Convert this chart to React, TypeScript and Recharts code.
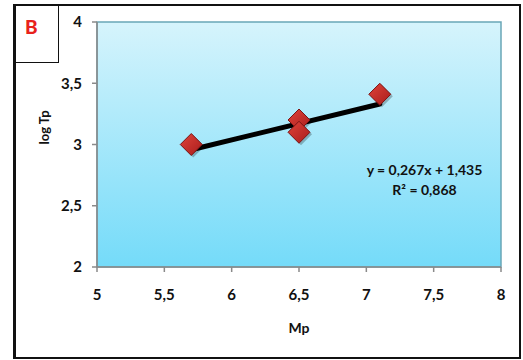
import React from "react";
import {
  ScatterChart,
  Scatter,
  XAxis,
  YAxis,
  ReferenceArea,
  ReferenceLine,
} from "recharts";

// measured points (Mp, log Tp)
const mpValues = [5.7, 6.5, 6.5, 7.1];
const logTpValues = [3.0, 3.2, 3.1, 3.41];

// linear trendline y = 0,267x + 1,435 between the first and last Mp
const trendStart = [5.7, 2.957];
const trendEnd = [7.1, 3.331];

const xTicks = [5, 5.5, 6, 6.5, 7, 7.5, 8];
const yTicks = [2, 2.5, 3, 3.5, 4];

const points = mpValues.map((mp, i) => ({ x: mp, y: logTpValues[i] }));

const FONT = "Lato, 'Open Sans', sans-serif";
const fmt = (v: number) => String(v).replace(".", ",");

// red diamond marker with a soft shadow
const Diamond = (props: any) => {
  const { cx, cy } = props;
  const r = 11;
  const d = `M${cx},${cy - r} L${cx + r},${cy} L${cx},${cy + r} L${cx - r},${cy} Z`;
  return (
    <g>
      <path d={d} transform="translate(2,2)" fill="rgba(0,0,0,0.25)" />
      <path d={d} fill="url(#dia)" stroke="#7a1414" strokeWidth={1} />
    </g>
  );
};

export default function App() {
  return (
    <div style={{ position: "relative", width: 523, height: 360, background: "#fff" }}>
      <style>{"body{margin:0}"}</style>
      {/* outer frame */}
      <div
        style={{
          position: "absolute",
          left: 13,
          top: 4,
          width: 503,
          height: 351,
          borderTop: "2px solid #111",
          borderRight: "2px solid #111",
          borderBottom: "2px solid #111",
          borderLeft: "3px solid #111",
        }}
      />
      {/* panel tag */}
      <div
        style={{
          position: "absolute",
          left: 13,
          top: 4,
          width: 46,
          height: 59,
          border: "1.5px solid #111",
          borderLeftWidth: 3,
          boxSizing: "border-box",
          fontFamily: FONT,
          fontWeight: 900,
          color: "#e8211c",
          fontSize: 19,
          lineHeight: "44px",
          paddingLeft: 9,
          textAlign: "left",
        }}
      >
        B
      </div>
      <div style={{ position: "absolute", left: 0, top: 0 }}>
        <ScatterChart
          width={523}
          height={360}
          margin={{ top: 22, right: 22, bottom: 63, left: 37 }}
        >
          <defs>
            <linearGradient id="bg" x1="0" y1="0" x2="0" y2="1">
              <stop offset="0%" stopColor="#d6f4fc" />
              <stop offset="100%" stopColor="#74dbf9" />
            </linearGradient>
            <linearGradient id="dia" x1="0" y1="0" x2="1" y2="1">
              <stop offset="0%" stopColor="#e0443a" />
              <stop offset="100%" stopColor="#a81c1c" />
            </linearGradient>
          </defs>
          <XAxis
            type="number"
            dataKey="x"
            domain={[5, 8]}
            ticks={xTicks}
            tickFormatter={fmt}
            height={30}
            tickSize={5}
            tickMargin={17}
            stroke="#8a8a8a"
            strokeWidth={1.5}
            tick={{ fill: "#111", fontSize: 15, fontWeight: 700, fontFamily: FONT }}
            label={{
              value: "Mp",
              position: "insideBottom",
              offset: -36,
              fill: "#111",
              fontSize: 14,
              fontWeight: 700,
              fontFamily: FONT,
            }}
          />
          <YAxis
            type="number"
            dataKey="y"
            domain={[2, 4]}
            ticks={yTicks}
            tickFormatter={fmt}
            width={60}
            tickSize={5}
            tickMargin={10}
            stroke="#8a8a8a"
            strokeWidth={1.5}
            tick={{ fill: "#111", fontSize: 15, fontWeight: 700, fontFamily: FONT }}
            label={{
              value: "log Tp",
              angle: -90,
              position: "insideLeft",
              offset: 0,
              dx: 7,
              fill: "#111",
              fontSize: 13,
              fontWeight: 700,
              fontFamily: FONT,
            }}
          />
          <ReferenceArea
            x1={5}
            x2={8}
            y1={2}
            y2={4}
            fill="url(#bg)"
            fillOpacity={1}
            stroke="#6aa6b6"
            strokeWidth={1.5}
          />
          <Scatter data={points} shape={<Diamond />} isAnimationActive={false} />
          <ReferenceLine
            segment={[
              { x: trendStart[0], y: trendStart[1] },
              { x: trendEnd[0], y: trendEnd[1] },
            ]}
            stroke="#000"
            strokeWidth={5}
            strokeLinecap="round"
          />
        </ScatterChart>
      </div>
      {/* regression equation */}
      <div
        style={{
          position: "absolute",
          left: 357,
          top: 160,
          width: 135,
          textAlign: "center",
          fontFamily: FONT,
          fontWeight: 700,
          fontSize: 14,
          lineHeight: "20px",
          color: "#111",
        }}
      >
        y = 0,267x + 1,435
        <br />
        R² = 0,868
      </div>
    </div>
  );
}
